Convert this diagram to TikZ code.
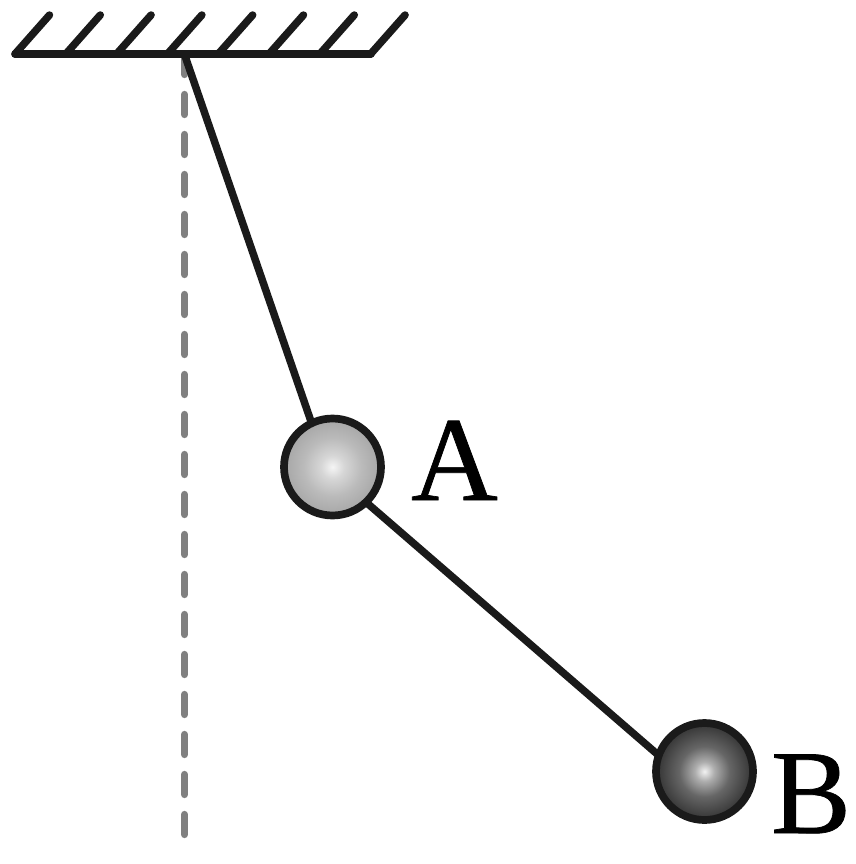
\documentclass[tikz,border=0pt]{standalone}
\usepackage{fontspec}
\newfontfamily\letterfont[FakeBold=0.6]{Liberation Serif}
\pgfdeclareradialshading{ballAshade}{\pgfpoint{0bp}{0bp}}{color(0bp)=(white!96!black); color(6bp)=(white!84!black); color(15bp)=(white!73!black); color(25bp)=(white!65!black); color(50bp)=(white!65!black)}
\pgfdeclareradialshading{ballBshade}{\pgfpoint{0bp}{0bp}}{color(0bp)=(white!95!black); color(5bp)=(white!68!black); color(13bp)=(white!40!black); color(25bp)=(white!20!black); color(50bp)=(white!20!black)}
\definecolor{ink}{HTML}{1A1A1A}
\definecolor{guide}{HTML}{808080}
\tikzset{
  x=1pt,y=-1pt,
  wall/.style={draw=ink,line width=7.5pt,line cap=round,line join=round},
  rod/.style={draw=ink,line width=7.5pt,shorten <=-2pt,shorten >=-2pt},
  guideline/.style={draw=guide,line width=7.3pt,line cap=round,dash pattern=on 20pt off 20pt},
  ball/.style={circle,draw=ink,line width=7.7pt,minimum size=97pt,inner sep=0pt},
  letter/.style={anchor=base,inner sep=0pt,text=black,font=\letterfont\fontsize{120}{120}\selectfont}
}
\begin{document}
\begin{tikzpicture}
\useasboundingbox (0,0) rectangle (855,864);
\coordinate (pivot) at (184.5,54.5);
\coordinate (guideEnd) at (184.5,834.5);
\coordinate (wallL) at (15,54);
\coordinate (wallR) at (371,54);
\draw[guideline] (pivot) -- (guideEnd);
\draw[wall] (wallL) -- (wallR);
\foreach \i in {0,...,7}{
  \draw[wall] (15+50.8*\i,54) -- ++(34.5,-39);
}
\node[ball,shading=ballAshade] (A) at (332.5,467) {};
\node[ball,shading=ballBshade] (B) at (704.5,771.5) {};
\draw[rod,shorten <=0pt] (pivot) -- (A.115);
\draw[rod] (A.-46) -- (B.159.5);
\node[letter] (labelA) at (454.5,500) {A};
\node[letter] (labelB) at (811,833) {B};
\end{tikzpicture}
\end{document}
